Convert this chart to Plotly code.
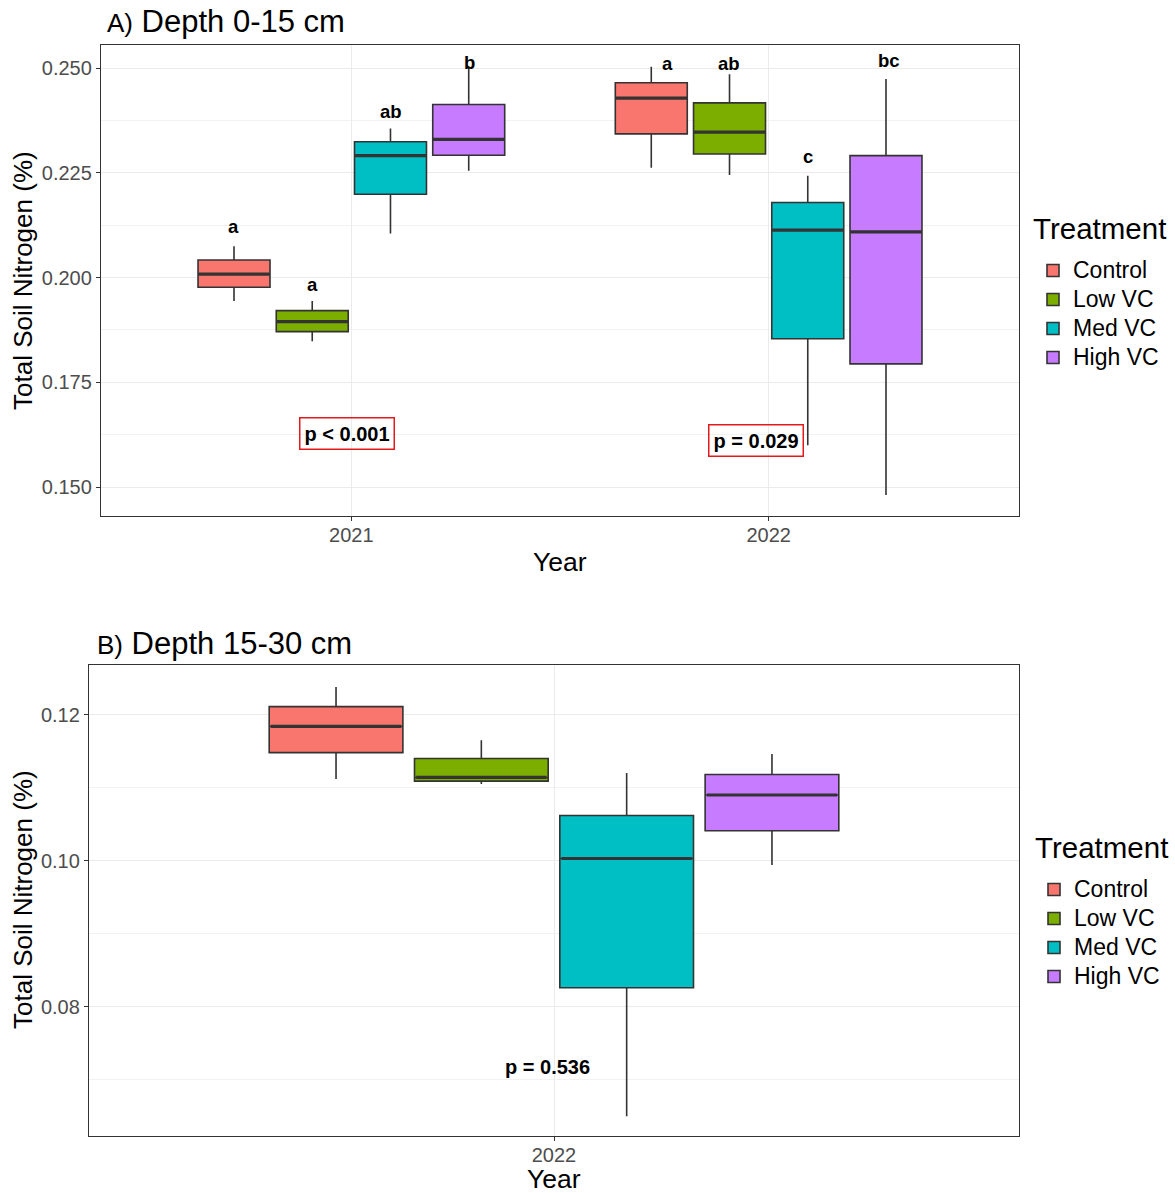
import plotly.graph_objects as go

# ---------------- data ----------------
treatments = ["Control", "Low VC", "Med VC", "High VC"]
colors = ["#F8766D", "#7CAE00", "#00BFC4", "#C77CFF"]

years_a = ["2021", "2022"]
# Panel A (0-15 cm): one list per treatment, values for [2021, 2022]
a_lower = [[0.1944, 0.2262], [0.1848, 0.2245], [0.2105, 0.1600], [0.2255, 0.1481]]
a_q1 = [[0.1977, 0.2343], [0.1871, 0.2295], [0.2199, 0.1854], [0.2292, 0.1794]]
a_median = [[0.2008, 0.2428], [0.1895, 0.2347], [0.2291, 0.2113], [0.2330, 0.2109]]
a_q3 = [[0.2042, 0.2465], [0.1921, 0.2417], [0.2324, 0.2179], [0.2413, 0.2291]]
a_upper = [[0.2075, 0.2503], [0.1944, 0.2485], [0.2356, 0.2243], [0.2505, 0.2474]]
a_letters = [["a", "a"], ["a", "ab"], ["ab", "c"], ["b", "bc"]]
a_letter_y = [[0.2123, 0.2510], [0.1984, 0.2512], [0.2397, 0.2290], [0.2514, 0.2517]]
a_pvalues = ["p < 0.001", "p = 0.029"]
a_pvalue_y = [0.1629, 0.1612]

years_b = ["2022"]
# Panel B (15-30 cm)
b_lower = [[0.1112], [0.1105], [0.0650], [0.0994]]
b_q1 = [[0.1148], [0.1109], [0.0826], [0.1041]]
b_median = [[0.1184], [0.1114], [0.1003], [0.1090]]
b_q3 = [[0.1211], [0.1140], [0.1062], [0.1118]]
b_upper = [[0.1238], [0.1165], [0.1120], [0.1146]]
b_pvalue = "p = 0.536"
b_pvalue_y = 0.0718

ticks_a = [0.150, 0.175, 0.200, 0.225, 0.250]
ticks_b = [0.08, 0.10, 0.12]

# ---------------- figure ----------------
FONT = "Liberation Sans, Arial, sans-serif"
W, H = 1175, 1193
fig = go.Figure()


def legend_label(t):
    return "<span style='font-size:23px'>%s</span>" % t


panels = [
    dict(x=years_a, lo=a_lower, q1=a_q1, md=a_median, q3=a_q3, hi=a_upper,
         xa="x", ya="y", leg="legend", msize=51),
    dict(x=years_b, lo=b_lower, q1=b_q1, md=b_median, q3=b_q3, hi=b_upper,
         xa="x2", ya="y2", leg="legend2", msize=93),
]
for p in panels:
    for i, t in enumerate(treatments):
        fig.add_trace(go.Box(
            name=legend_label(t), x=p["x"], q1=p["q1"][i], median=p["md"][i], q3=p["q3"][i],
            lowerfence=p["lo"][i], upperfence=p["hi"][i],
            fillcolor=colors[i], line=dict(color="#333333", width=1.6),
            whiskerwidth=0, xaxis=p["xa"], yaxis=p["ya"], legend=p["leg"],
            offsetgroup=t, alignmentgroup="box" + p["xa"], boxpoints=False,
        ))
    # thick median bars (ggplot style), dodged like the boxes
    for i, t in enumerate(treatments):
        fig.add_trace(go.Scatter(
            x=p["x"], y=p["md"][i], mode="markers", showlegend=False,
            marker=dict(symbol="line-ew", size=p["msize"], color="#333333",
                        line=dict(color="#333333", width=3.2)),
            xaxis=p["xa"], yaxis=p["ya"], offsetgroup=t,
            alignmentgroup="med" + p["xa"], hoverinfo="skip",
        ))

grid = "#EBEBEB"
axis_common = dict(
    showline=True, linecolor="#333333", linewidth=1.3, mirror=True,
    ticks="outside", ticklen=4, tickcolor="#333333", tickwidth=1,
    gridcolor=grid, gridwidth=1.2, zeroline=False,
    tickfont=dict(family=FONT, size=20, color="#4D4D4D"),
)

legend_common = dict(xanchor="left", yanchor="top",
                     font=dict(family=FONT, size=20, color="black"),
                     bgcolor="rgba(0,0,0,0)", tracegroupgap=0)

fig.update_layout(
    width=W, height=H, margin=dict(l=0, r=0, t=0, b=0),
    paper_bgcolor="white", plot_bgcolor="white",
    boxmode="group", boxgap=0.25, boxgroupgap=0.08,
    scattermode="group", scattergap=0.25,
    xaxis=dict(domain=[101 / W, 1019 / W], anchor="y", type="category",
               categoryorder="array", categoryarray=years_a,
               range=[-0.6, 1.6], ticklabelstandoff=-3, **axis_common),
    yaxis=dict(domain=[1 - 516 / H, 1 - 45 / H], anchor="x",
               range=[0.1431, 0.2555], tickvals=ticks_a, tickformat=".3f",
               minor=dict(dtick=0.0125, tick0=0.1375, showgrid=True,
                          gridcolor="#F2F2F2", gridwidth=0.8, ticks=""),
               **axis_common),
    xaxis2=dict(domain=[89 / W, 1019 / W], anchor="y2", type="category",
                categoryorder="array", categoryarray=years_b,
                range=[-0.6, 0.6], ticklabelstandoff=-3, **axis_common),
    yaxis2=dict(domain=[1 - 1136 / H, 1 - 665 / H], anchor="x2",
                range=[0.0623, 0.1268], tickvals=ticks_b, tickformat=".2f",
                minor=dict(dtick=0.01, tick0=0.07, showgrid=True,
                           gridcolor="#F2F2F2", gridwidth=0.8, ticks=""),
                **axis_common),
    legend=dict(x=1033 / W, y=1 - 251 / H, **legend_common),
    legend2=dict(x=1034 / W, y=1 - 870 / H, **legend_common),
    showlegend=True,
)

ann = []
# panel titles
ann.append(dict(text="<span style='font-size:26px'>A)</span> Depth 0-15 cm", xref="paper", yref="paper",
                x=105 / W, y=1 - 22 / H, xanchor="left", yanchor="middle", showarrow=False,
                font=dict(family=FONT, size=31, color="black")))
ann.append(dict(text="<span style='font-size:26px'>B)</span> Depth 15-30 cm", xref="paper", yref="paper",
                x=95 / W, y=1 - 643 / H, xanchor="left", yanchor="middle", showarrow=False,
                font=dict(family=FONT, size=31, color="black")))
# legend titles
for lx, ly in [(1031, 228), (1033, 847)]:
    ann.append(dict(text="Treatment", xref="paper", yref="paper", x=lx / W, y=1 - ly / H,
                    xanchor="left", yanchor="middle", showarrow=False,
                    font=dict(family=FONT, size=29.5, color="black")))
# axis titles
for ycen in [281, 900]:
    ann.append(dict(text="Total Soil Nitrogen (%)", xref="paper", yref="paper",
                    x=23 / W, y=1 - ycen / H, textangle=-90, showarrow=False,
                    xanchor="center", yanchor="middle",
                    font=dict(family=FONT, size=26, color="black")))
ann.append(dict(text="Year", xref="paper", yref="paper", x=560 / W, y=1 - 562 / H,
                showarrow=False, font=dict(family=FONT, size=26.5, color="black")))
ann.append(dict(text="Year", xref="paper", yref="paper", x=554 / W, y=1 - 1162 / H,
                yanchor="top", showarrow=False, font=dict(family=FONT, size=26.5, color="black")))

# significance letters (positioned at dodge offsets of each treatment)
offsets = [-0.283, -0.094, 0.094, 0.283]
letter_shift = [[0, 0.04], [0, 0.0], [0.0, 0.0], [0.0, 0.005]]
for i in range(4):
    for j in range(2):
        ann.append(dict(text="<b>%s</b>" % a_letters[i][j], xref="x", yref="y",
                        x=j + offsets[i] + letter_shift[i][j], y=a_letter_y[i][j],
                        showarrow=False, font=dict(family=FONT, size=18.5, color="black")))
# p-values
p_x = [-0.01, 0.97]
for j in range(2):
    ann.append(dict(text="<b>%s</b>" % a_pvalues[j], xref="x", yref="y",
                    x=p_x[j], y=a_pvalue_y[j], showarrow=False,
                    bordercolor="#E31A1C", borderwidth=1.5, borderpad=4,
                    font=dict(family=FONT, size=20, color="black")))
ann.append(dict(text="<b>%s</b>" % b_pvalue, xref="x2", yref="y2",
                x=-0.008, y=b_pvalue_y, showarrow=False,
                font=dict(family=FONT, size=20, color="black")))

fig.update_layout(annotations=ann)
fig.write_html("out.html")
